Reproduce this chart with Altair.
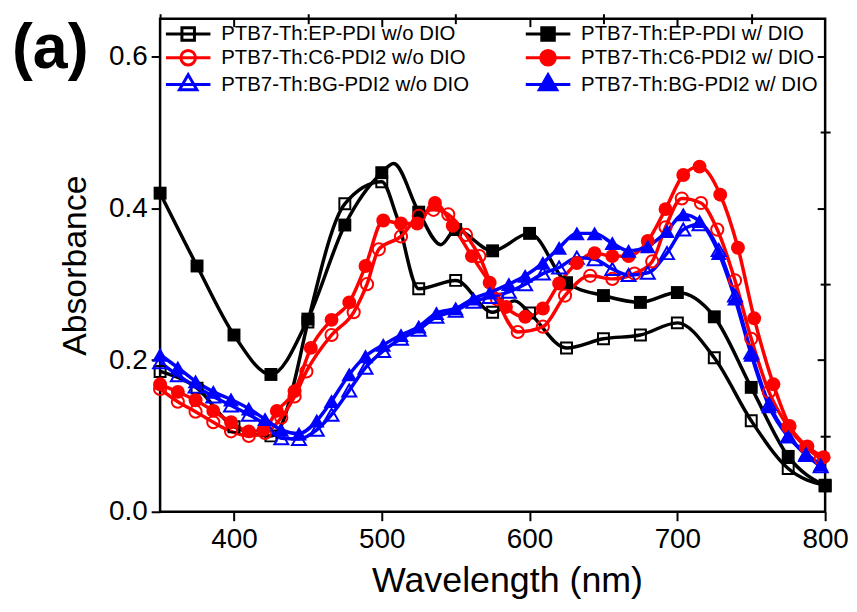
import altair as alt
import pandas as pd

FONT = "Liberation Sans"
W, H = 669, 496

SERIES = ["PTB7-Th:EP-PDI w/o DIO", "PTB7-Th:EP-PDI w/ DIO",
          "PTB7-Th:C6-PDI2 w/o DIO", "PTB7-Th:C6-PDI2 w/ DIO",
          "PTB7-Th:BG-PDI2 w/o DIO", "PTB7-Th:BG-PDI2 w/ DIO"]
COLORS = ["#000000", "#000000", "#ff0000", "#ff0000", "#0000ff", "#0000ff"]

# legend order (filled column by column): w/o DIO column, then w/ DIO column
LEG_ORDER = [SERIES[0], SERIES[2], SERIES[4], SERIES[1], SERIES[3], SERIES[5]]
LEG_STROKE = ["#000000", "#ff0000", "#0000ff", "#000000", "#ff0000", "#0000ff"]
LEG_FILL = ["#ffffff", "#ffffff", "#ffffff", "#000000", "#ff0000", "#0000ff"]

# EP-PDI w/o DIO (open squares); marker flag 1 = drawn marker
ep_wo_wl = [350, 375, 400, 425, 433, 440, 450, 475, 500, 510, 525, 550, 575, 590, 600, 625, 650, 675, 700, 725, 750, 775, 800]
ep_wo_abs = [0.185, 0.163, 0.112, 0.100, 0.118, 0.165, 0.250, 0.406, 0.435, 0.390, 0.294, 0.305, 0.263, 0.278, 0.262, 0.216, 0.228, 0.233, 0.249, 0.203, 0.120, 0.057, 0.035]
ep_wo_mk = [1, 1, 1, 1, 0, 0, 1, 1, 1, 0, 1, 1, 1, 0, 1, 1, 1, 1, 1, 1, 1, 1, 1]

# EP-PDI w/ DIO (filled squares)
ep_w_wl = [350, 375, 400, 425, 450, 475, 500, 508, 525, 540, 550, 575, 600, 625, 650, 675, 700, 725, 750, 775, 800]
ep_w_abs = [0.420, 0.324, 0.233, 0.181, 0.254, 0.378, 0.447, 0.459, 0.395, 0.352, 0.372, 0.344, 0.367, 0.302, 0.285, 0.276, 0.289, 0.257, 0.164, 0.073, 0.034]
ep_w_mk = [1, 1, 1, 1, 1, 1, 1, 0, 1, 0, 1, 1, 1, 1, 1, 1, 1, 1, 1, 1, 1]

# C6-PDI2 w/o DIO (open circles)
c6_wo_wl = [350, 362, 374, 386, 398, 410, 421, 432, 441, 449, 466, 481, 490, 498, 513, 525, 535, 545, 557, 566,
            578, 592, 609, 624, 641, 656, 671, 683, 692, 703, 716, 727, 739, 750, 762, 775, 787, 797]
c6_wo_abs = [0.162, 0.145, 0.132, 0.118, 0.106, 0.100, 0.104, 0.124, 0.152, 0.185, 0.233, 0.263, 0.300, 0.346, 0.363, 0.390, 0.398, 0.392, 0.365, 0.337,
             0.280, 0.237, 0.244, 0.285, 0.311, 0.307, 0.314, 0.330, 0.375, 0.413, 0.407, 0.372, 0.305, 0.228, 0.158, 0.112, 0.085, 0.070]

# C6-PDI2 w/ DIO (filled circles)
c6_w_wl = [350, 362, 374, 386, 398, 410, 420, 429, 441, 452, 466, 478, 489, 501, 513, 524, 536, 548, 561, 573,
           584, 597, 609, 620, 632, 644, 656, 667, 680, 692, 704, 715, 729, 741, 752, 765, 776, 788, 799]
c6_w_abs = [0.168, 0.158, 0.147, 0.133, 0.118, 0.106, 0.108, 0.133, 0.159, 0.216, 0.253, 0.276, 0.324, 0.384, 0.380, 0.380, 0.407, 0.377, 0.337, 0.302,
            0.270, 0.257, 0.268, 0.301, 0.328, 0.341, 0.337, 0.337, 0.357, 0.399, 0.444, 0.455, 0.418, 0.348, 0.255, 0.168, 0.113, 0.086, 0.072]

# BG-PDI2 (triangles)
bg_wl = [350, 362, 374, 386, 398, 410, 421, 432, 444, 456, 466, 478, 489, 501, 513, 525, 537, 550, 562, 573,
         586, 597, 609, 620, 632, 644, 656, 667, 680, 693, 704, 715, 728, 739, 750, 762, 775, 787, 797]
bg_wo_abs = [0.197, 0.180, 0.165, 0.152, 0.140, 0.128, 0.115, 0.097, 0.096, 0.108, 0.128, 0.160, 0.190, 0.212, 0.228, 0.240, 0.257, 0.265, 0.277, 0.283,
             0.290, 0.300, 0.314, 0.322, 0.335, 0.333, 0.320, 0.312, 0.315, 0.341, 0.372, 0.379, 0.345, 0.285, 0.210, 0.142, 0.100, 0.075, 0.060]
bg_w_abs = [0.207, 0.190, 0.172, 0.158, 0.148, 0.136, 0.122, 0.108, 0.103, 0.120, 0.146, 0.181, 0.205, 0.220, 0.233, 0.244, 0.262, 0.268, 0.281, 0.289,
            0.300, 0.311, 0.328, 0.348, 0.367, 0.367, 0.354, 0.344, 0.350, 0.370, 0.392, 0.383, 0.341, 0.281, 0.207, 0.139, 0.099, 0.077, 0.062]

rows = []
def add(name, wl, ab, mk=None):
    for i, (w, a) in enumerate(zip(wl, ab)):
        rows.append({"series": name, "wl": w, "abs": a, "marker": 1 if mk is None else mk[i]})

add(SERIES[0], ep_wo_wl, ep_wo_abs, ep_wo_mk)
add(SERIES[1], ep_w_wl, ep_w_abs, ep_w_mk)
add(SERIES[2], c6_wo_wl, c6_wo_abs)
add(SERIES[3], c6_w_wl, c6_w_abs)
add(SERIES[4], bg_wl, bg_wo_abs)
add(SERIES[5], bg_wl, bg_w_abs)
df = pd.DataFrame(rows)

# one legend row per series, no coordinates (nothing drawn in the plot)
legend_df = pd.DataFrame({"series": SERIES, "wl": [None] * 6, "abs": [None] * 6})

xscale = alt.Scale(domain=[350, 800], nice=False, zero=False)
yscale = alt.Scale(domain=[0, 0.65], nice=False)
# colour scale for the drawn curves (domain order reversed so it is not merged with the legend)
cscale = alt.Scale(domain=SERIES[::-1], range=COLORS[::-1])

tick_common = dict(tickColor="black", tickWidth=2, domain=False, grid=False)
ax_x_major = alt.Axis(values=[400, 500, 600, 700, 800], title="Wavelength (nm)", tickSize=9,
                      labelFontSize=28, labelFont=FONT, labelColor="black", labelPadding=5,
                      labelFlush=False, titleFontSize=36, titleFont=FONT, titleFontWeight="normal",
                      titleColor="black", titlePadding=10, titleX=349, **tick_common)
ax_x_minor = alt.Axis(values=[350, 450, 550, 650, 750], tickSize=5, labels=False, title=None, **tick_common)
ax_x_top_major = alt.Axis(orient="bottom", offset=-H, values=[400, 500, 600, 700], tickSize=8,
                          labels=False, title=None, **tick_common)
ax_x_top_minor = alt.Axis(orient="bottom", offset=-H, values=[450, 550, 650, 750], tickSize=5,
                          labels=False, title=None, **tick_common)
ax_y_major = alt.Axis(values=[0, 0.2, 0.4, 0.6], format=".1f", title="Absorbance", tickSize=9,
                      labelFontSize=28, labelFont=FONT, labelColor="black", labelPadding=4,
                      titleFontSize=34, titleFont=FONT, titleFontWeight="normal", titleColor="black",
                      titlePadding=16, **tick_common)
ax_y_minor = alt.Axis(values=[0.1, 0.3, 0.5], tickSize=5, labels=False, title=None, **tick_common)
ax_y_right_major = alt.Axis(orient="left", offset=-W, values=[0.2, 0.4, 0.6], tickSize=8,
                            labels=False, title=None, **tick_common)
ax_y_right_minor = alt.Axis(orient="left", offset=-W, values=[0.1, 0.3, 0.5], tickSize=5,
                            labels=False, title=None, **tick_common)

lines = alt.Chart(df).mark_line(interpolate="monotone", strokeWidth=3.5).encode(
    x=alt.X("wl:Q", scale=xscale, axis=ax_x_major),
    y=alt.Y("abs:Q", scale=yscale, axis=ax_y_major),
    color=alt.Color("series:N", scale=cscale, legend=None),
    detail="series:N",
    order="wl:Q",
)

marker_specs = [
    (SERIES[0], "square", False, 121),
    (SERIES[1], "square", True, 169),
    (SERIES[2], "circle", False, 150),
    (SERIES[4], "triangle-up", False, 196),
    (SERIES[3], "circle", True, 196),
    (SERIES[5], "triangle-up", True, 256),
]
axes_cycle = [(ax_x_minor, ax_y_minor), (ax_x_top_major, ax_y_right_major),
              (ax_x_top_minor, ax_y_right_minor)]
point_layers = []
for i, (name, shape, filled, size) in enumerate(marker_specs):
    axx, axy = axes_cycle[i] if i < len(axes_cycle) else (None, None)
    pl = alt.Chart(df).transform_filter(
        (alt.datum.series == name) & (alt.datum.marker == 1)
    ).mark_point(shape=shape, filled=filled, size=size, strokeWidth=2, opacity=1).encode(
        x=alt.X("wl:Q", scale=xscale, axis=axx),
        y=alt.Y("abs:Q", scale=yscale, axis=axy),
        color=alt.Color("series:N", scale=cscale, legend=None),
    )
    point_layers.append(pl)

# legend symbols: a line segment through the marker (unit = sqrt(symbolSize)/2 px)
k = 0.5523 * 1.05
r = 1.05
CI = (f"M-3.2,0H3.2M{r},0C{r},{k},{k},{r},0,{r}C{-k},{r},{-r},{k},{-r},0"
      f"C{-r},{-k},{-k},{-r},0,{-r}C{k},{-r},{r},{-k},{r},0Z")
SQ = "M-3.2,0H3.2M-0.9,-0.9H0.9V0.9H-0.9Z"
TR = "M-3.2,0H3.2M0,-1.4L1.25,0.75H-1.25Z"
LEG_SHAPES = [SQ, CI, TR, SQ, CI, TR]

leg = alt.Legend(title=None, orient="none", legendX=4, legendY=5, columns=2,
                 symbolSize=196, symbolStrokeWidth=3, symbolOffset=14, labelOffset=23,
                 labelFontSize=20.5, labelFont=FONT, labelColor="black", rowPadding=-3,
                 columnPadding=50, labelLimit=500)

legend_layer = alt.Chart(legend_df).mark_point(opacity=1, strokeWidth=3, size=196).encode(
    x=alt.X("wl:Q", scale=xscale, axis=None),
    y=alt.Y("abs:Q", scale=yscale, axis=None),
    stroke=alt.Stroke("series:N", scale=alt.Scale(domain=LEG_ORDER, range=LEG_STROKE), legend=leg),
    fill=alt.Fill("series:N", scale=alt.Scale(domain=LEG_ORDER, range=LEG_FILL), legend=leg),
    shape=alt.Shape("series:N", scale=alt.Scale(domain=LEG_ORDER, range=LEG_SHAPES), legend=leg),
)

panel_label = alt.Chart(pd.DataFrame({"label": ["(a)"]})).mark_text(
    font=FONT, fontSize=63, fontWeight="bold", align="left", baseline="top", color="black"
).encode(x=alt.value(-149), y=alt.value(0), text="label:N")

chart = alt.layer(lines, *point_layers, legend_layer, panel_label).resolve_axis(
    x="independent", y="independent"
).properties(
    width=W, height=H,
    padding={"left": 4, "top": 3, "right": 0, "bottom": 0},
).configure_view(stroke="black", strokeWidth=2.5)

chart.save("out.html", embed_options={"renderer": "svg", "actions": False})
